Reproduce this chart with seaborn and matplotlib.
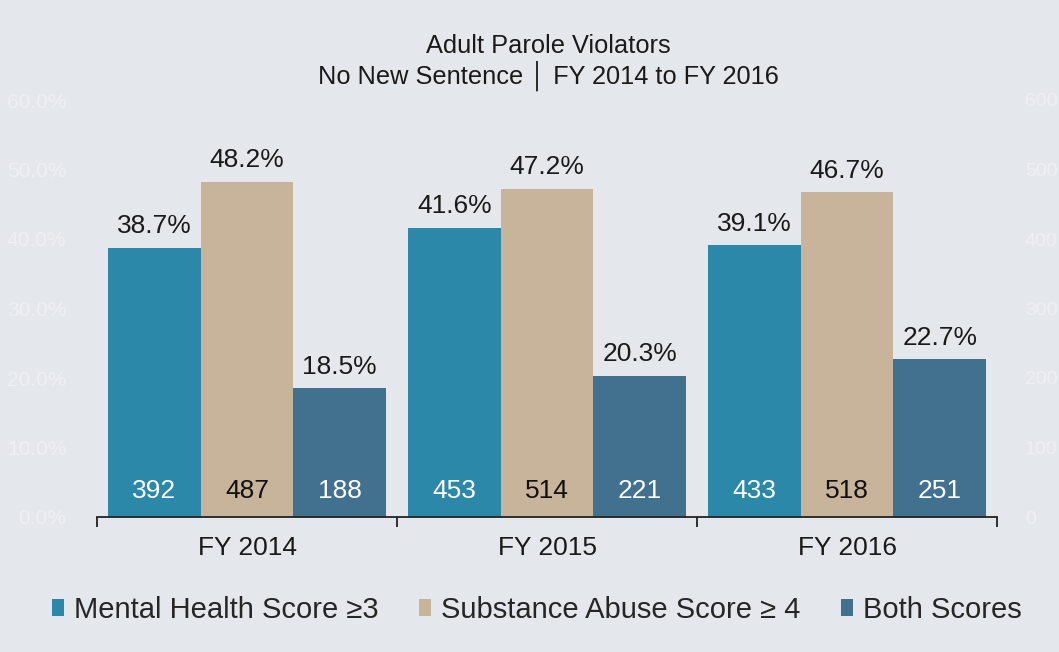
import matplotlib
matplotlib.use("Agg")
import matplotlib.pyplot as plt
import seaborn as sns
import pandas as pd
from matplotlib.patches import Patch
from matplotlib.ticker import FuncFormatter

years = ["FY 2014", "FY 2015", "FY 2016"]
measures = ["Mental Health Score \u22653", "Substance Abuse Score \u2265 4", "Both Scores"]
mental_pct = [38.7, 41.6, 39.1]
substance_pct = [48.2, 47.2, 46.7]
both_pct = [18.5, 20.3, 22.7]
mental_n = [392, 453, 433]
substance_n = [487, 514, 518]
both_n = [188, 221, 251]
colors = ["#2B88A8", "#C8B49A", "#42708F"]
count_text_colors = ["white", "#111111", "white"]

sns.set_theme(style="white")
plt.rcParams["font.family"] = ["Liberation Sans", "DejaVu Sans"]
BG = "#E4E7EC"
FAINT = "#EEF0F3"

rows = []
for m, pcts, ns in zip(measures, [mental_pct, substance_pct, both_pct], [mental_n, substance_n, both_n]):
    for y, p, n in zip(years, pcts, ns):
        rows.append({"year": y, "measure": m, "pct": p / 100.0, "n": n})
df = pd.DataFrame(rows)

fig = plt.figure(figsize=(10.59, 6.52), dpi=100, facecolor=BG)
ax = fig.add_axes([97 / 1059, (652 - 517) / 652, 900 / 1059, 417 / 652])
ax.set_facecolor(BG)

sns.barplot(data=df, x="year", y="pct", hue="measure", hue_order=measures,
            order=years, palette=colors, saturation=1, width=0.927, gap=0,
            ax=ax, legend=False, edgecolor="none", linewidth=0)

ax.set_xlim(-0.5, 2.5)
ax.set_ylim(0, 0.6)
ax.set_xlabel("")
ax.set_ylabel("")
for s in ["top", "right", "left"]:
    ax.spines[s].set_visible(False)
ax.spines["bottom"].set_color("#222222")
ax.spines["bottom"].set_linewidth(1.3)

ax.set_xticks(range(3))
ax.set_xticklabels(years, fontsize=19, color="#1a1a1a")
ax.tick_params(axis="x", which="major", length=0, pad=14, bottom=True)
ax.set_xticks([-0.5, 0.5, 1.5, 2.5], minor=True)
ax.tick_params(axis="x", which="minor", bottom=True, length=7, width=1.3,
               color="#222222", direction="out")

ax.set_yticks([0, 0.1, 0.2, 0.3, 0.4, 0.5, 0.6])
ax.yaxis.set_major_formatter(FuncFormatter(lambda v, p: f"{v*100:.1f}%"))
ax.tick_params(axis="y", length=0, labelsize=15, labelcolor=FAINT, pad=22)

ax2 = ax.twinx()
ax2.set_ylim(0, 600)
ax2.set_yticks([0, 100, 200, 300, 400, 500, 600])
ax2.tick_params(axis="y", length=0, labelsize=14, labelcolor=FAINT, pad=20)
for s in ax2.spines.values():
    s.set_visible(False)
ax2.grid(False)

for i, cont in enumerate(ax.containers):
    sub = df[df["measure"] == measures[i]].set_index("year").loc[years]
    for bar, p, n in zip(cont, sub["pct"], sub["n"]):
        cx = bar.get_x() + bar.get_width() / 2
        ax.annotate(f"{p*100:.1f}%", (cx, bar.get_height()), xytext=(0, 7),
                    textcoords="offset points", ha="center", va="bottom",
                    fontsize=19, color="#1a1a1a")
        ax.annotate(f"{n}", (cx, 0), xytext=(0, 19), textcoords="offset points",
                    ha="center", va="center", fontsize=19, color=count_text_colors[i])

fig.text(548 / 1059, 1 - 46 / 652, "Adult Parole Violators", ha="center", va="center",
         fontsize=18.3, color="#1a1a1a")
fig.text(548 / 1059, 1 - 76 / 652, "No New Sentence \u2502 FY 2014 to FY 2016", ha="center",
         va="center", fontsize=18.3, color="#1a1a1a")

handles = [Patch(facecolor=c, edgecolor="none") for c in colors]
fig.legend(handles, measures, loc="center", bbox_to_anchor=(537 / 1059, 1 - 610 / 652),
           ncol=3, frameon=False, fontsize=21, handlelength=0.4, handleheight=0.5,
           handletextpad=0.35, columnspacing=1.4)

fig.savefig("out.png", dpi=100, facecolor=BG)
